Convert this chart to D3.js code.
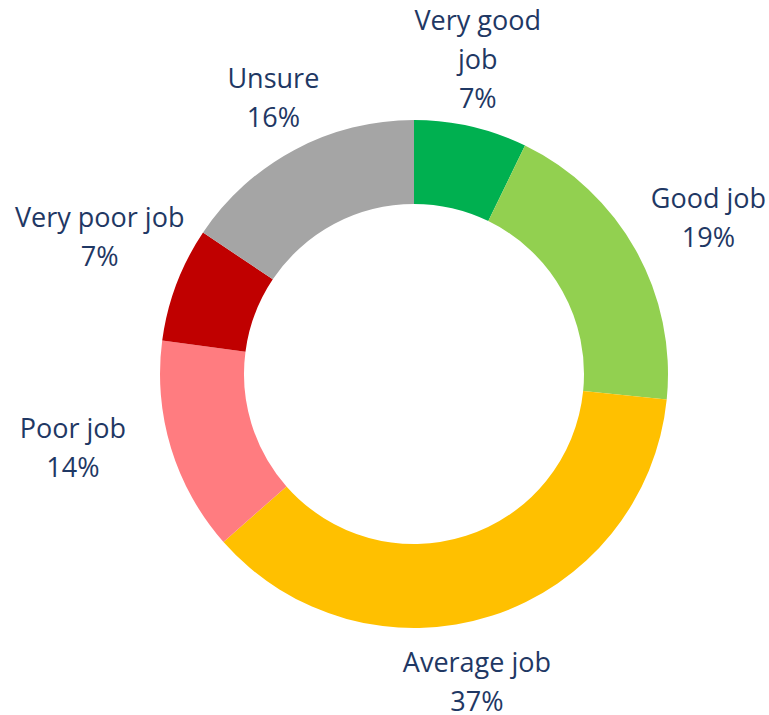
<!DOCTYPE html>
<html>
<head>
<meta charset="utf-8">
<script src="https://cdn.jsdelivr.net/npm/d3@7"></script>
<style>
  html, body { margin: 0; padding: 0; background: #fff; }
  svg { display: block; }
</style>
</head>
<body>
<svg id="chart" width="769" height="715"></svg>
<script>
// ---- data ----
const categories = ["Very good job", "Good job", "Average job", "Poor job", "Very poor job", "Unsure"];
const values = [7.2, 19.4, 36.9, 13.6, 7.3, 15.6];
const labelLines = [["Very good", "job"], ["Good job"], ["Average job"], ["Poor job"], ["Very poor job"], ["Unsure"]];
const colors = ["#00B050", "#92D050", "#FFC000", "#FF7C80", "#C00000", "#A5A5A5"];

// ---- layout ----
const W = 769, H = 715;
const cx = 414, cy = 374;
const outerR = 254, innerR = 170;
const labelR = 320;
const lineH = 39;
// label nudges relative to centroid at labelR (first baseline)
const nudges = [[-8, -32], [15, -10], [-35, -7], [-35, -29], [-15, -34], [10, -4]];

const svg = d3.select("#chart");
const g = svg.append("g").attr("transform", `translate(${cx},${cy})`);

const pie = d3.pie().sort(null).value(d => d.v);
const data = categories.map((c, i) => ({ c, v: values[i], i }));
const arcs = pie(data);

const arc = d3.arc().innerRadius(innerR).outerRadius(outerR);
const labelArc = d3.arc().innerRadius(labelR).outerRadius(labelR);

g.selectAll("path.slice")
  .data(arcs)
  .join("path")
  .attr("class", "slice")
  .attr("d", arc)
  .attr("fill", d => colors[d.data.i]);

const fmt = d => Math.round(d.data.v) + "%";

g.selectAll("text.lbl")
  .data(arcs)
  .join("text")
  .attr("class", "lbl")
  .attr("text-anchor", "middle")
  .attr("font-family", "'Open Sans', Lato, sans-serif")
  .attr("font-size", 27)
  .attr("fill", "#1F3864")
  .each(function(d) {
    const [x, y] = labelArc.centroid(d);
    const [dx, dy] = nudges[d.data.i];
    const lines = labelLines[d.data.i].concat([fmt(d)]);
    const t = d3.select(this);
    lines.forEach((ln, k) => {
      t.append("tspan")
        .attr("x", x + dx)
        .attr("y", y + dy + k * lineH)
        .text(ln);
    });
  });
</script>
</body>
</html>
